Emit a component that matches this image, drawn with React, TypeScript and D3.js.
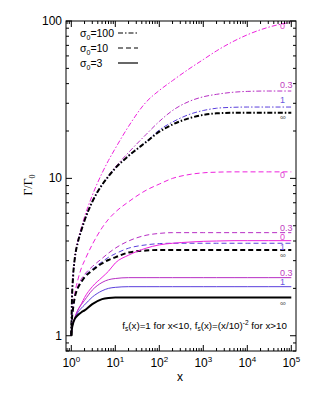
import * as d3 from "d3";

// x grid shared by every curve
const xs = [1, 1.03, 1.1, 1.2, 1.4, 1.7, 2, 3, 5, 7, 10, 20, 50, 100, 200, 500, 1e3, 2e3, 5e3, 1e4, 3e4, 1e5];

// sigma0 = 100 (dash-dot)
const s100_0 = [1, 1.6, 2.4, 3.1, 4.0, 4.9, 5.7, 7.8, 10.8, 13.0, 15.5, 21.4, 30.5, 36.2, 41.8, 50.1, 56.9, 64.6, 74.6, 81.7, 91.2, 98.4];
const s100_03 = [1, 1.6, 2.4, 3.1, 3.9, 4.7, 5.4, 7.1, 9.1, 10.4, 11.8, 14.6, 19.0, 23.0, 27.0, 31.0, 33.0, 34.2, 35.3, 35.7, 35.9, 35.9];
const s100_1 = [1, 1.6, 2.4, 3.1, 3.9, 4.7, 5.4, 7.1, 9.1, 10.3, 11.6, 13.9, 17.1, 20.3, 22.8, 25.6, 27.0, 27.9, 28.3, 28.4, 28.4, 28.4];
const s100_inf = [1, 1.6, 2.4, 3.1, 3.9, 4.7, 5.4, 7.1, 9.1, 10.3, 11.6, 13.9, 17.0, 19.8, 22.0, 24.2, 25.3, 25.9, 26.1, 26.1, 26.1, 26.1];

// sigma0 = 10 (dashed)
const s10_0 = [1, 1.25, 1.55, 1.85, 2.25, 2.7, 3.0, 3.8, 4.85, 5.5, 6.1, 7.1, 8.4, 9.2, 10.0, 10.6, 10.85, 10.95, 11.0, 11.0, 11.0, 11.0];
const s10_03 = [1, 1.25, 1.5, 1.75, 2.05, 2.3, 2.45, 2.75, 3.1, 3.35, 3.6, 4.0, 4.35, 4.47, 4.52, 4.52, 4.52, 4.52, 4.52, 4.52, 4.52, 4.52];
const s10_1 = [1, 1.25, 1.5, 1.75, 2.0, 2.2, 2.38, 2.65, 2.95, 3.15, 3.32, 3.6, 3.78, 3.85, 3.87, 3.87, 3.87, 3.87, 3.87, 3.87, 3.87, 3.87];
const s10_inf = [1, 1.25, 1.5, 1.75, 2.0, 2.2, 2.35, 2.6, 2.88, 3.03, 3.15, 3.38, 3.48, 3.51, 3.51, 3.51, 3.51, 3.51, 3.51, 3.51, 3.51, 3.51];

// sigma0 = 3 (solid)
const s3_0 = [1, 1.1, 1.2, 1.3, 1.45, 1.6, 1.75, 2.05, 2.35, 2.57, 2.9, 3.25, 3.6, 3.78, 3.87, 3.94, 3.98, 4.0, 4.02, 4.02, 4.02, 4.02];
const s3_03 = [1, 1.1, 1.2, 1.3, 1.45, 1.58, 1.68, 1.95, 2.18, 2.27, 2.31, 2.34, 2.34, 2.34, 2.34, 2.34, 2.34, 2.34, 2.34, 2.34, 2.34, 2.34];
const s3_1 = [1, 1.1, 1.2, 1.28, 1.4, 1.5, 1.57, 1.76, 1.93, 2.0, 2.03, 2.05, 2.05, 2.05, 2.05, 2.05, 2.05, 2.05, 2.05, 2.05, 2.05, 2.05];
const s3_inf = [1, 1.1, 1.2, 1.28, 1.35, 1.41, 1.45, 1.59, 1.71, 1.74, 1.75, 1.75, 1.75, 1.75, 1.75, 1.75, 1.75, 1.75, 1.75, 1.75, 1.75, 1.75];

const sigmaLabels = ["100", "10", "3"];
const paramLabels = ["0", "0.3", "1", "∞"];

const curves = [
  { ys: s100_0, sigma: 0, p: 0, dy: 7 },
  { ys: s100_03, sigma: 0, p: 1, dy: -3 },
  { ys: s100_1, sigma: 0, p: 2, dy: -4 },
  { ys: s100_inf, sigma: 0, p: 3, dy: 7 },
  { ys: s10_0, sigma: 1, p: 0, dy: 6 },
  { ys: s10_03, sigma: 1, p: 1, dy: -2 },
  { ys: s10_1, sigma: 1, p: 2, dy: 7 },
  { ys: s10_inf, sigma: 1, p: 3, dy: 8 },
  { ys: s3_0, sigma: 2, p: 0, dy: -1 },
  { ys: s3_03, sigma: 2, p: 1, dy: -2 },
  { ys: s3_1, sigma: 2, p: 2, dy: -2 },
  { ys: s3_inf, sigma: 2, p: 3, dy: 8 },
];

const colors = ["#ee22dd", "#b72ec4", "#5a3fdc", "#000000"];
const labelColors = ["#e040d0", "#c040c0", "#6a58e0", "#555555"];
const dashes = ["5,2,1.5,2", "5,3", null];

const W = 315;
const H = 393;
const m = { left: 66, right: 296, top: 21, bottom: 351 };
const sans = "'Liberation Sans', Arial, Helvetica, sans-serif";

export default function App() {
  const x = d3.scaleLog().domain([Math.pow(10, -0.1205), Math.pow(10, 5.107)]).range([m.left, m.right]);
  const y = d3.scaleLog().domain([0.8, 100]).range([m.bottom, m.top]);

  const line = d3
    .line<number>()
    .x((_, i) => x(xs[i]))
    .y((d) => y(d))
    .curve(d3.curveMonotoneX);

  // ticks
  const xMajor = [1, 10, 100, 1e3, 1e4, 1e5];
  const xMinor: number[] = [];
  for (let e = -1; e <= 5; e++) {
    for (let k = 2; k <= 9; k++) {
      const v = k * Math.pow(10, e);
      if (v >= x.domain()[0] && v <= x.domain()[1]) xMinor.push(v);
    }
  }
  const yMajor = [1, 10, 100];
  const yMinor: number[] = [];
  for (let e = -1; e <= 1; e++) {
    for (let k = 2; k <= 9; k++) {
      const v = k * Math.pow(10, e);
      if (v >= 0.8 && v <= 100) yMinor.push(v);
    }
  }

  return (
    <svg width={W} height={H} style={{ position: "absolute", left: 0, top: 0, background: "#fff" }}>
      <rect x={0} y={0} width={W} height={H} fill="#fff" />

      {/* curves */}
      {curves.map((c, i) => {
        const isBlack = c.p === 3;
        return (
          <path
            key={i}
            d={line(c.ys) || ""}
            fill="none"
            stroke={colors[c.p]}
            strokeWidth={isBlack ? 2 : 1}
            strokeDasharray={dashes[c.sigma] || undefined}
          />
        );
      })}

      {/* end labels */}
      {curves.map((c, i) => (
        <text
          key={"l" + i}
          x={280}
          y={y(c.ys[c.ys.length - 1]) + c.dy}
          fontFamily={sans}
          fontSize={c.p === 3 ? 8 : 9}
          fill={labelColors[c.p]}
        >
          {paramLabels[c.p]}
        </text>
      ))}

      {/* frame */}
      <rect x={m.left} y={m.top} width={m.right - m.left} height={m.bottom - m.top} fill="none" stroke="#000" strokeWidth={1} />

      {/* x ticks */}
      {xMajor.map((v) => (
        <g key={"xM" + v}>
          <line x1={x(v)} x2={x(v)} y1={m.bottom} y2={m.bottom - 6} stroke="#000" />
          <line x1={x(v)} x2={x(v)} y1={m.top} y2={m.top + 6} stroke="#000" />
          <text x={x(v)} y={367} textAnchor="middle" fontFamily={sans} fontSize={12}>
            10
            <tspan dy={-5} fontSize={8}>
              {Math.round(Math.log10(v))}
            </tspan>
          </text>
        </g>
      ))}
      {xMinor.map((v) => (
        <g key={"xm" + v}>
          <line x1={x(v)} x2={x(v)} y1={m.bottom} y2={m.bottom - 3} stroke="#000" />
          <line x1={x(v)} x2={x(v)} y1={m.top} y2={m.top + 3} stroke="#000" />
        </g>
      ))}

      {/* y ticks */}
      {yMajor.map((v) => (
        <g key={"yM" + v}>
          <line x1={m.left} x2={m.left + 6} y1={y(v)} y2={y(v)} stroke="#000" />
          <line x1={m.right} x2={m.right - 6} y1={y(v)} y2={y(v)} stroke="#000" />
          <text x={62} y={y(v) + 4} textAnchor="end" fontFamily={sans} fontSize={12}>
            {v}
          </text>
        </g>
      ))}
      {yMinor.map((v) => (
        <g key={"ym" + v}>
          <line x1={m.left} x2={m.left + 3} y1={y(v)} y2={y(v)} stroke="#000" />
          <line x1={m.right} x2={m.right - 3} y1={y(v)} y2={y(v)} stroke="#000" />
        </g>
      ))}

      {/* legend */}
      {sigmaLabels.map((s, i) => {
        const ly = 33 + i * 15;
        return (
          <g key={"lg" + i}>
            <text x={80} y={ly + 4} fontFamily={sans} fontSize={10.5}>
              σ<tspan dy={3} fontSize={7}>0</tspan>
              <tspan dy={-3}>={s}</tspan>
            </text>
            <line x1={118} x2={138} y1={ly} y2={ly} stroke="#000" strokeWidth={1.2} strokeDasharray={dashes[i] || undefined} />
          </g>
        );
      })}

      {/* annotation */}
      <text x={287} y={329} textAnchor="end" fontFamily={sans} fontSize={9.8}>
        f<tspan dy={2} fontSize={6.5}>s</tspan>
        <tspan dy={-2}>(x)=1 for x&lt;10, f</tspan>
        <tspan dy={2} fontSize={6.5}>s</tspan>
        <tspan dy={-2}>(x)=(x/10)</tspan>
        <tspan dy={-4} fontSize={6.5}>-2</tspan>
        <tspan dy={4}> for x&gt;10</tspan>
      </text>

      {/* axis titles */}
      <text x={180} y={381} textAnchor="middle" fontFamily={sans} fontSize={12}>
        x
      </text>
      <text
        transform="translate(32,185) rotate(-90)"
        textAnchor="middle"
        fontFamily="'Liberation Serif', 'Times New Roman', serif"
        fontSize={12}
      >
        Γ/Γ<tspan dy={3} fontSize={8}>0</tspan>
      </text>
    </svg>
  );
}
